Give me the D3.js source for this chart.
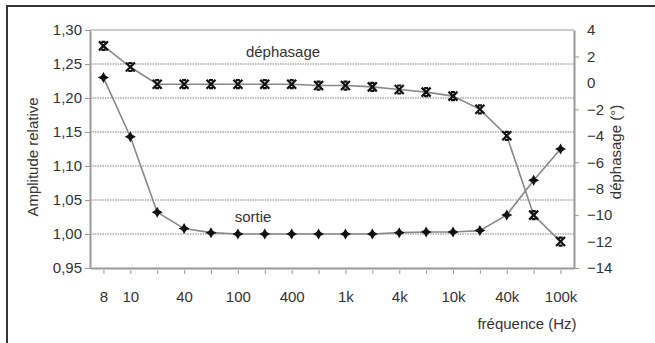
<!DOCTYPE html>
<html>
<head>
<meta charset="utf-8">
<script src="https://cdn.jsdelivr.net/npm/d3@7"></script>
<style>
  body { margin: 0; background: #fff; }
  svg text { font-family: "Liberation Sans", Arial, sans-serif; fill: #333; }
  .axis path, .axis line { stroke: #999; }
</style>
</head>
<body>
<div id="chart"></div>
<script>
// frequency categories (evenly spaced on the chart)
var categories = ["8","10","20","40","70","100","200","400","700","1k","2k","4k","7k","10k","20k","40k","70k","100k"];
var tickLabels = ["8","10","","40","","100","","400","","1k","","4k","","10k","","40k","","100k"];
// relative amplitude (left axis)
var sortie = [1.23, 1.143, 1.032, 1.008, 1.002, 1.000, 1.000, 1.000, 1.000, 1.000, 1.000, 1.002, 1.003, 1.003, 1.005, 1.028, 1.079, 1.125];
// phase shift in degrees (right axis)
var dephasage = [2.8, 1.2, -0.1, -0.1, -0.1, -0.1, -0.1, -0.1, -0.2, -0.2, -0.3, -0.5, -0.7, -1.0, -2.0, -4.0, -10.0, -12.0];
var leftTicks = [0.95, 1.00, 1.05, 1.10, 1.15, 1.20, 1.25, 1.30];
var rightTicks = [4, 2, 0, -2, -4, -6, -8, -10, -12, -14];

var width = 655, height = 343;
var margin = {top: 30, right: 81, bottom: 75, left: 90};
var graphWidth = width - margin.left - margin.right;
var graphHeight = height - margin.top - margin.bottom;
var fontSize = "15px";

var svg = d3.select("#chart")
  .append("svg")
  .attr("width", width)
  .attr("height", height);

// outer frame (only top and left edges visible)
svg.append("path")
  .attr("d", "M7,343 L7,6 L655,6")
  .attr("fill", "none")
  .attr("stroke", "#333")
  .attr("stroke-width", 2);

var g = svg.append("g")
  .attr("transform", "translate(" + margin.left + "," + margin.top + ")");

var x = d3.scalePoint()
  .domain(categories)
  .range([0, graphWidth])
  .padding(0.5);

var yLeft = d3.scaleLinear()
  .domain([0.95, 1.30])
  .range([graphHeight, 0]);

var yRight = d3.scaleLinear()
  .domain([-14, 4])
  .range([graphHeight, 0]);

// grid lines
g.selectAll(".grid")
  .data(leftTicks.filter(function(d) { return d > 0.96 && d < 1.29; }))
  .enter()
  .append("line")
  .attr("class", "grid")
  .attr("x1", 0)
  .attr("x2", graphWidth)
  .attr("y1", function(d) { return yLeft(d); })
  .attr("y2", function(d) { return yLeft(d); })
  .attr("stroke", "#aaa")
  .attr("stroke-width", 1.5)
  .attr("stroke-dasharray", "1.5,1");

// top border of plot area
g.append("line")
  .attr("x1", 0).attr("x2", graphWidth)
  .attr("y1", 0).attr("y2", 0)
  .attr("stroke", "#bbb")
  .attr("stroke-width", 1.5);

// left axis
g.append("g")
  .attr("class", "axis")
  .call(d3.axisLeft(yLeft)
    .tickValues(leftTicks)
    .tickSizeInner(5)
    .tickSizeOuter(0)
    .tickPadding(3)
    .tickFormat(function(d) { return d3.format(".2f")(d).replace(".", ","); }))
  .call(function(a) {
    a.select(".domain").attr("stroke-width", 2);
    a.selectAll("text").style("font-size", fontSize).attr("fill", "#333");
  });

// right axis
g.append("g")
  .attr("class", "axis")
  .attr("transform", "translate(" + graphWidth + ",0)")
  .call(d3.axisRight(yRight)
    .tickValues(rightTicks)
    .tickSizeInner(5)
    .tickSizeOuter(0)
    .tickPadding(8))
  .call(function(a) {
    a.select(".domain").attr("stroke-width", 2);
    a.selectAll("text").style("font-size", fontSize).attr("fill", "#333");
    a.selectAll(".tick line").attr("opacity", function(d) { return [2, -2, -6, -10, -14].indexOf(d) >= 0 ? 1 : 0; });
  });

// bottom axis
g.append("g")
  .attr("class", "axis")
  .attr("transform", "translate(0," + graphHeight + ")")
  .call(d3.axisBottom(x)
    .tickSizeInner(6)
    .tickSizeOuter(0)
    .tickPadding(17)
    .tickFormat(function(d, i) { return tickLabels[i]; }))
  .call(function(a) {
    a.select(".domain").attr("stroke-width", 2);
    a.selectAll(".tick line").attr("y1", 2).attr("stroke", "#888");
    a.selectAll("text").style("font-size", fontSize).attr("fill", "#333");
  });

// axis titles
svg.append("text")
  .attr("transform", "translate(38,157)rotate(-90)")
  .style("text-anchor", "middle")
  .style("font-size", fontSize)
  .text("Amplitude relative");

svg.append("text")
  .attr("transform", "translate(621,152)rotate(-90)")
  .style("text-anchor", "middle")
  .style("font-size", fontSize)
  .text("déphasage (°)");

svg.append("text")
  .attr("x", 527)
  .attr("y", 329)
  .style("text-anchor", "middle")
  .style("font-size", fontSize)
  .text("fréquence (Hz)");

// series labels
svg.append("text")
  .attr("x", 283).attr("y", 57)
  .style("text-anchor", "middle")
  .style("font-size", fontSize)
  .text("déphasage");

svg.append("text")
  .attr("x", 253).attr("y", 222)
  .style("text-anchor", "middle")
  .style("font-size", fontSize)
  .text("sortie");

// lines
var lineSortie = d3.line()
  .x(function(d, i) { return x(categories[i]); })
  .y(function(d) { return yLeft(d); });

var linePhase = d3.line()
  .x(function(d, i) { return x(categories[i]); })
  .y(function(d) { return yRight(d); });

g.append("path")
  .datum(sortie)
  .attr("d", lineSortie)
  .attr("fill", "none")
  .attr("stroke", "#888")
  .attr("stroke-width", 1.6);

g.append("path")
  .datum(dephasage)
  .attr("d", linePhase)
  .attr("fill", "none")
  .attr("stroke", "#888")
  .attr("stroke-width", 1.6);

// markers
g.selectAll(".ptSortie")
  .data(sortie)
  .enter()
  .append("path")
  .attr("class", "ptSortie")
  .attr("transform", function(d, i) { return "translate(" + x(categories[i]) + "," + yLeft(d) + ")"; })
  .attr("d", "M0,-5.5 L2,-2 L5.5,0 L2,2 L0,5.5 L-2,2 L-5.5,0 L-2,-2 Z")
  .attr("fill", "#111");

g.selectAll(".ptPhase")
  .data(dephasage)
  .enter()
  .append("path")
  .attr("class", "ptPhase")
  .attr("transform", function(d, i) { return "translate(" + x(categories[i]) + "," + yRight(d) + ")"; })
  .attr("d", "M-4.5,-4.5 L4.5,4.5 M4.5,-4.5 L-4.5,4.5 M-2,-4 L2,-4 M-2,4 L2,4")
  .attr("fill", "none")
  .attr("stroke", "#111")
  .attr("stroke-width", 2.2);
</script>
</body>
</html>
